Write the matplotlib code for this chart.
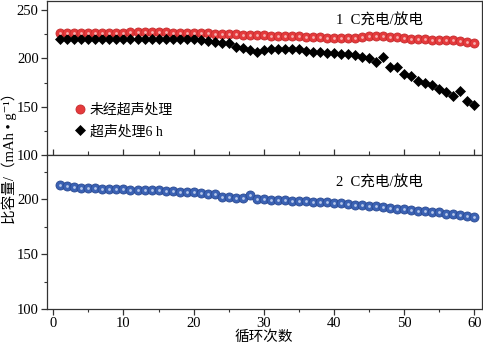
import numpy as np
import matplotlib.pyplot as plt

plt.rcParams['font.family'] = ['Liberation Serif', 'Noto Sans CJK SC', 'DejaVu Serif']

# cycle number
cycles = np.arange(1, 61)

# 1 C, untreated (red)
cap_raw = [226.5, 226.5, 226.5, 226.5, 226, 226, 226.5, 226.5, 226.5, 226.5,
           227, 227, 227.5, 227.5, 227, 227, 226.5, 226.5, 226.5, 226.5,
           226, 226, 225.5, 225.5, 225, 225, 224.5, 224, 224, 224,
           223.5, 223.5, 223.5, 223, 223, 222.5, 222.5, 222, 221.5, 221.5,
           221, 221, 221, 222, 223, 223, 223, 222.5, 222, 221,
           220.5, 220, 220, 219.5, 219.5, 219, 219, 218.5, 217.5, 216]

# 1 C, ultrasonic 6 h (black)
cap_us6 = [220.5, 220.5, 220.5, 220.5, 220.5, 220.5, 220.5, 220.5, 220.5, 220.5,
           220.5, 220.5, 220.5, 220.5, 220.5, 220.5, 220.5, 220, 220, 220,
           219, 218, 217.5, 216.5, 215.5, 212, 210.5, 208.5, 206.5, 208.5,
           209.3, 209.7, 209.7, 209.7, 209.3, 208, 207, 206.2, 205.9, 205.2,
           204.5, 204.1, 203.1, 201.7, 200, 196, 202, 191, 191, 184,
           182, 177, 175, 172, 168, 165, 161, 166, 156, 152]

# 2 C (blue)
cap_2c = [212.5, 211.5, 210.5, 210, 210, 210, 209.5, 209.5, 209.5, 209,
          208.5, 208.5, 208.5, 208, 208, 207.5, 207, 206.5, 206.5, 206,
          205.5, 205, 204.5, 202, 201.5, 201, 201, 204, 200, 200,
          199.5, 199, 199, 198.5, 198, 198, 197.5, 197, 197, 196.5,
          196, 195.5, 195, 194.5, 194, 193.5, 193, 192, 191, 191,
          190, 189.5, 189, 188.5, 188, 186.5, 186, 185.5, 185, 184]

W, H = 483, 345
fig = plt.figure(figsize=(W / 100, H / 100), dpi=100)
left, right = 47 / W, 482 / W
ax1 = fig.add_axes([left, 1 - 155 / H, right - left, 154 / H])
ax2 = fig.add_axes([left, 1 - 309 / H, right - left, 154 / H])

spine_c = '#333333'
for ax in (ax1, ax2):
    ax.set_xlim(-0.9, 61.1)
    ax.set_xticks(range(0, 61, 10))
    ax.set_xticks(range(5, 61, 10), minor=True)
    ax.set_yticks([100, 150, 200, 250])
    ax.set_yticks([125, 175, 225], minor=True)
    for s in ax.spines.values():
        s.set_color(spine_c)
        s.set_linewidth(0.9)
    ax.tick_params(axis='y', which='major', direction='out', length=4, width=0.9,
                   color=spine_c, labelsize=10.5, pad=2)
    ax.tick_params(axis='y', which='minor', direction='out', length=2.5, width=0.8,
                   color=spine_c)

ax1.set_ylim(100, 259.5)
ax2.set_ylim(100, 240)

ax1.tick_params(axis='x', which='major', direction='inout', length=8, width=0.9,
                color=spine_c, labelbottom=False)
ax1.tick_params(axis='x', which='minor', direction='in', length=3, width=0.8,
                color=spine_c)
ax2.tick_params(axis='x', which='major', direction='out', length=4, width=0.9,
                color=spine_c, labelsize=10.5, pad=2)
ax2.tick_params(axis='x', which='minor', direction='out', length=2.5, width=0.8,
                color=spine_c)

ax1.plot(cycles, cap_raw, 'o', ms=6.5, mfc='#e53a3c', mec='#c42a2c', mew=0.6,
         label='未经超声处理', zorder=3)
ax1.plot(cycles, cap_raw, 'o', ms=2, mfc='#f6b0b0', mec='none', zorder=4)
ax1.plot(cycles, cap_us6, 'D', ms=5, mfc='black', mec='black', mew=0.5,
         label='超声处理6 h', zorder=3)

ax2.plot(cycles, cap_2c, 'o', ms=6.5, mfc='#3b62b4', mec='#2a4a92', mew=0.6, zorder=3)
ax2.plot(cycles, cap_2c, 'o', ms=2, mfc='#b8c8ea', mec='none', zorder=4)

ax1.legend(loc='upper left', bbox_to_anchor=(0.035, 0.4), frameon=False,
           fontsize=10, handletextpad=0.1, handlelength=1.2, labelspacing=0.6,
           borderpad=0.2)

ax1.text(0.765, 0.87, '1  C充电/放电', transform=ax1.transAxes, ha='center',
         va='center', fontsize=10.5)
ax2.text(0.765, 0.82, '2  C充电/放电', transform=ax2.transAxes, ha='center',
         va='center', fontsize=10.5)

fig.text(263.5 / W, 1 - 337 / H, '循环次数', ha='center', va='center', fontsize=10.5)
fig.text(9 / W, 1 - 155 / H, '比容量/（mAh • g⁻¹）', rotation=90,
         ha='center', va='center', fontsize=10.5)

fig.savefig('out.png', dpi=100)
